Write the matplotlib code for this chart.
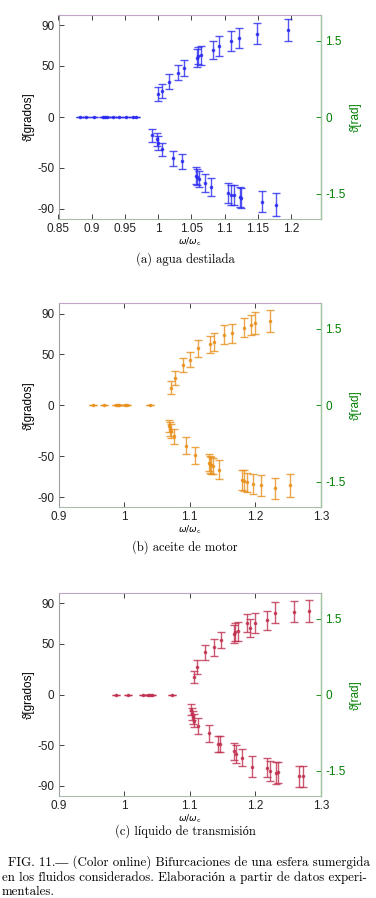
import numpy as np
import matplotlib
matplotlib.use("Agg")
import matplotlib.pyplot as plt

plt.rcParams["font.family"] = ["Liberation Sans", "DejaVu Sans"]
plt.rcParams["mathtext.fontset"] = "dejavusans"
plt.rcParams["axes.unicode_minus"] = False

SERIF = ["cmr10", "Liberation Serif"]

# (a) agua destilada
a_zero_x = [0.8825, 0.892, 0.9036, 0.917, 0.9195, 0.923, 0.932, 0.941, 0.952, 0.962, 0.966]
a_up_x = [1.000, 1.005, 1.017, 1.030, 1.039, 1.058, 1.060, 1.065, 1.083, 1.091, 1.109, 1.121, 1.149, 1.196]
a_up_y = [22.4, 25.3, 34.5, 43.4, 47.7, 58.0, 60.0, 60.5, 65.7, 69.4, 74.6, 77.5, 81.8, 85.7]
a_up_err = [7.2, 6.9, 7.4, 7.4, 7.7, 8.5, 8.5, 9.4, 9.0, 9.7, 9.7, 9.7, 10.3, 10.8]
a_dn_x = [0.991, 0.998, 0.999, 1.005, 1.022, 1.036, 1.057, 1.059, 1.062, 1.070, 1.079,
          1.105, 1.109, 1.114, 1.123, 1.125, 1.156, 1.178]
a_dn_y = [-17.7, -21.7, -25.6, -31.5, -40.4, -43.6, -57.4, -59.1, -60.7, -65.0, -68.6,
          -74.9, -76.2, -76.8, -78.8, -79.4, -83.0, -86.0]
a_dn_err = [6.4, 6.4, 6.7, 6.4, 7.4, 7.7, 8.0, 8.0, 7.9, 9.0, 9.2,
            9.9, 9.7, 9.7, 9.7, 9.7, 10.5, 11.3]

# (b) aceite de motor
b_zero_x = [0.953, 0.970, 0.988, 0.990, 0.992, 1.0015, 1.005, 1.039]
b_up_x = [1.071, 1.077, 1.089, 1.101, 1.112, 1.131, 1.137, 1.152, 1.164, 1.182, 1.194, 1.1995, 1.222]
b_up_y = [17.4, 26.5, 39.9, 44.8, 55.9, 59.8, 61.8, 69.0, 70.6, 75.9, 78.8, 80.4, 82.4]
b_up_err = [6.2, 6.9, 6.9, 7.7, 8.3, 8.3, 8.7, 9.3, 9.3, 9.3, 10.0, 10.6, 10.6]
b_dn_x = [1.069, 1.070, 1.071, 1.0766, 1.094, 1.108, 1.129, 1.131, 1.132, 1.135, 1.144,
          1.179, 1.182, 1.187, 1.196, 1.208, 1.230, 1.253]
b_dn_y = [-20.2, -23.5, -25.0, -30.4, -39.5, -49.0, -56.2, -57.8, -59.0, -59.4, -63.0,
          -73.5, -74.1, -75.5, -77.5, -78.4, -81.4, -78.4]
b_dn_err = [6.2, 6.9, 6.9, 7.5, 8.5, 8.3, 8.5, 8.5, 8.5, 7.8, 9.3,
            10.0, 10.3, 9.6, 9.8, 10.3, 10.3, 11.3]

# (c) liquido de transmision
c_zero_x = [0.9873, 1.0056, 1.0285, 1.037, 1.040, 1.0425, 1.073]
c_up_x = [1.1066, 1.1117, 1.1239, 1.1366, 1.1473, 1.1671, 1.1686, 1.1741, 1.1878, 1.1915,
          1.200, 1.218, 1.2305, 1.259, 1.281]
c_up_y = [17.3, 27.5, 41.6, 46.8, 53.9, 59.8, 61.8, 62.7, 70.6, 65.7,
          70.6, 73.5, 80.8, 82.0, 82.7]
c_up_err = [6.2, 6.7, 7.5, 8.2, 8.3, 8.7, 9.3, 9.3, 9.2, 8.8,
            9.6, 9.5, 10.5, 10.3, 10.6]
c_dn_x = [1.102, 1.1036, 1.1051, 1.1066, 1.1122, 1.1294, 1.1437, 1.146, 1.168, 1.1706,
          1.1792, 1.1955, 1.218, 1.223, 1.2315, 1.235, 1.267, 1.272]
c_dn_y = [-14.7, -18.9, -22.5, -25.8, -31.0, -38.2, -48.6, -48.6, -55.9, -58.8,
          -62.1, -70.9, -71.9, -75.1, -77.5, -76.8, -80.7, -80.7]
c_dn_err = [5.6, 6.0, 6.3, 6.6, 7.7, 8.3, 8.2, 8.2, 8.2, 8.7,
            8.3, 10.0, 9.8, 10.1, 10.8, 10.5, 10.6, 10.6]

y_ticks = [-90, -50, 0, 50, 90]
rad_ticks = [-1.5, 0, 1.5]
green = "#008000"


def draw_panel(ax, color, zero_x, up, dn, xlim, xticks, xlabels):
    style = dict(fmt=".", ms=3.2, color=color, ecolor=color, elinewidth=1.0,
                 capsize=2.6, capthick=1.0, alpha=0.8)
    ax.errorbar(zero_x, np.zeros(len(zero_x)), yerr=0, **style)
    for xs, ys, es in (up, dn):
        ax.errorbar(xs, ys, yerr=es, **style)

    ax.set_xlim(xlim)
    ax.set_ylim(-100, 100)
    ax.set_xticks(xticks)
    ax.set_xticklabels(xlabels)
    ax.set_yticks(y_ticks)
    ax.tick_params(direction="in", length=3.5, width=0.6, top=True, right=True,
                   labelsize=8.5, pad=3, colors="#222222")
    ax.spines["left"].set_color("#a0a0a0")
    ax.spines["top"].set_color("#c0a4c8")
    ax.spines["bottom"].set_color("#a8bca8")
    ax.set_xlabel(r"$\omega/\omega_{\rm c}$", fontsize=6.5, labelpad=0)
    ax.set_ylabel("ϑ[grados]", fontsize=8.5, labelpad=2)

    tw = ax.twinx()
    tw.set_ylim(-2, 2)
    tw.set_yticks(rad_ticks)
    tw.set_yticklabels(["-1.5", "0", "1.5"])
    tw.tick_params(direction="in", length=3.5, width=0.6, labelsize=8.5, pad=3,
                   colors=green)
    tw.spines["right"].set_color("#98c898")
    tw.spines["top"].set_visible(False)
    tw.spines["left"].set_visible(False)
    tw.spines["bottom"].set_visible(False)
    tw.set_ylabel("ϑ[rad]", fontsize=8.5, color=green, labelpad=3)


fig = plt.figure(figsize=(3.76, 8.98), dpi=100)
W, H = 376.0, 898.0
left, width = 58.5 / W, (321 - 58.5) / W

ax_a = fig.add_axes([left, 1 - 219 / H, width, 204 / H])
ax_b = fig.add_axes([left, 1 - 507.3 / H, width, 204 / H])
ax_c = fig.add_axes([left, 1 - 796 / H, width, 202.7 / H])

draw_panel(ax_a, "#2a2af0", a_zero_x, (a_up_x, a_up_y, a_up_err), (a_dn_x, a_dn_y, a_dn_err),
           (0.85, 1.245), [0.85, 0.9, 0.95, 1.0, 1.05, 1.1, 1.15, 1.2],
           ["0.85", "0.9", "0.95", "1", "1.05", "1.1", "1.15", "1.2"])
draw_panel(ax_b, "#e8901c", b_zero_x, (b_up_x, b_up_y, b_up_err), (b_dn_x, b_dn_y, b_dn_err),
           (0.9, 1.3), [0.9, 1.0, 1.1, 1.2, 1.3], ["0.9", "1", "1.1", "1.2", "1.3"])
draw_panel(ax_c, "#c0304f", c_zero_x, (c_up_x, c_up_y, c_up_err), (c_dn_x, c_dn_y, c_dn_err),
           (0.9, 1.3), [0.9, 1.0, 1.1, 1.2, 1.3], ["0.9", "1", "1.1", "1.2", "1.3"])

sub = dict(ha="center", va="center", fontsize=9, family=SERIF)
fig.text(185 / W, 1 - 259 / H, "(a) agua destilada", **sub)
fig.text(185 / W, 1 - 547 / H, "(b) aceite de motor", **sub)
fig.text(185 / W, 1 - 831 / H, "(c) líquido de transmisión", **sub)

cap = dict(ha="left", va="center", fontsize=9.3, family=SERIF)
fig.text(8 / W, 1 - 862 / H,
         "FIG. 11.— (Color online) Bifurcaciones de una esfera sumergida", **cap)
fig.text(2 / W, 1 - 878 / H,
         "en los fluidos considerados. Elaboración a partir de datos experi-", **cap)
fig.text(2 / W, 1 - 892 / H, "mentales.", **cap)

fig.savefig("out.png", dpi=100)
